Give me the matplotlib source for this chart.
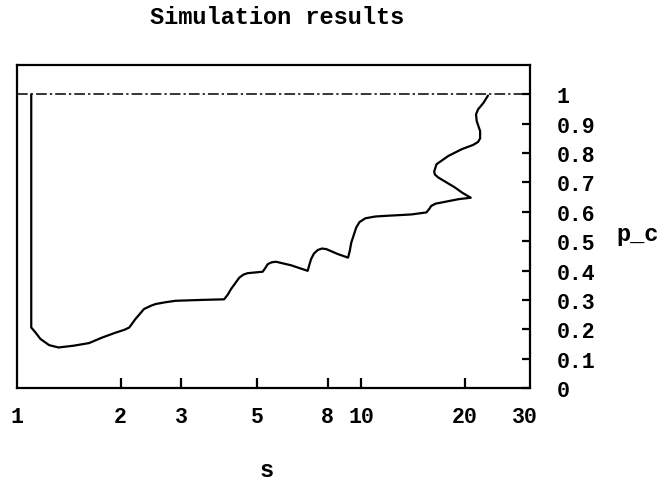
import matplotlib
matplotlib.use("Agg")
import matplotlib.pyplot as plt
from matplotlib.ticker import FixedLocator, FixedFormatter

# Data
s_vals = [1.10, 1.10, 1.13, 1.17, 1.24, 1.32, 1.46, 1.62, 1.77, 1.94, 2.05, 2.12, 2.21, 2.34,
          2.45, 2.53, 2.70, 2.89, 3.45, 4.00, 4.10, 4.19, 4.43, 4.55, 4.68, 5.18, 5.28, 5.36,
          5.50, 5.66, 6.26, 7.00, 7.08, 7.16, 7.30, 7.49, 7.70, 7.93, 8.57, 9.17, 9.27, 9.37,
          9.69, 9.90, 10.30, 11.00, 11.70, 14.00, 15.50, 15.80, 16.00, 16.50, 17.20, 19.20,
          20.85, 19.70, 18.75, 16.77, 16.40, 16.32, 16.58, 17.93, 19.61, 21.20, 21.90, 22.20,
          22.20, 21.70, 21.60, 21.90, 22.70, 23.40]
p_vals = [1.000, 0.206, 0.190, 0.167, 0.146, 0.138, 0.144, 0.153, 0.172, 0.189, 0.198, 0.206,
          0.235, 0.269, 0.280, 0.286, 0.292, 0.297, 0.300, 0.302, 0.318, 0.337, 0.376, 0.386,
          0.391, 0.396, 0.410, 0.422, 0.428, 0.430, 0.418, 0.399, 0.420, 0.439, 0.458, 0.470,
          0.475, 0.473, 0.456, 0.444, 0.465, 0.495, 0.547, 0.565, 0.578, 0.584, 0.586, 0.591,
          0.598, 0.610, 0.620, 0.628, 0.632, 0.643, 0.648, 0.665, 0.683, 0.717, 0.727, 0.737,
          0.762, 0.790, 0.813, 0.828, 0.838, 0.850, 0.875, 0.909, 0.932, 0.949, 0.971, 0.996]
ref_level = 1.0
x_major = [2, 3, 5, 8, 10, 20]
x_major_labels = ["2", "3", "5", "8", "10", "20"]
x_edge = [1, 30]
x_edge_labels = ["1", "30"]
y_ticks = [0, 0.1, 0.2, 0.3, 0.4, 0.5, 0.6, 0.7, 0.8, 0.9, 1.0]
y_ticklabels = ["0", "0.1", "0.2", "0.3", "0.4", "0.5", "0.6", "0.7", "0.8", "0.9", "1"]

FONT = "Liberation Mono"
TS = 15.5

fig = plt.figure(figsize=(6.61, 4.81), dpi=100)
ax = fig.add_axes([17 / 661, 1 - 389 / 481, (530 - 17) / 661, (389 - 66) / 481])

ax.plot(s_vals, p_vals, color="black", lw=1.6, solid_joinstyle="round",
        solid_capstyle="round")
ax.axhline(ref_level, color="black", lw=1.1, ls=(0, (7, 2, 1.5, 2)))

ax.set_xscale("log")
ax.set_xlim(1, 31.0)
ax.set_ylim(0, 1.1)

ax.xaxis.set_major_locator(FixedLocator(x_major))
ax.xaxis.set_major_formatter(FixedFormatter(x_major_labels))
ax.xaxis.set_minor_locator(FixedLocator(x_edge))
ax.xaxis.set_minor_formatter(FixedFormatter(x_edge_labels))
ax.yaxis.tick_right()
ax.set_yticks(y_ticks)
ax.set_yticklabels(y_ticklabels)

ax.tick_params(axis="x", which="major", direction="in", length=7, width=1.6, pad=13,
               labelsize=TS)
ax.tick_params(axis="x", which="minor", direction="in", length=0, width=0, pad=13,
               labelsize=TS)
ax.tick_params(axis="y", direction="in", length=6, width=1.6, pad=19,
               labelsize=TS)
for lab in (ax.get_xticklabels() + ax.get_xticklabels(minor=True)
            + ax.get_yticklabels()):
    lab.set_fontfamily(FONT)
    lab.set_fontweight("bold")
for lab in ax.get_yticklabels():
    lab.set_horizontalalignment("left")

for sp in ax.spines.values():
    sp.set_linewidth(1.6)

fig.text(277 / 661, 1 - 18 / 481, "Simulation results", ha="center", va="center",
         fontsize=17, fontfamily=FONT, fontweight="bold")
fig.text(616 / 661, 1 - 235 / 481, "p_c", ha="left", va="center",
         fontsize=17, fontfamily=FONT, fontweight="bold")
fig.text(267 / 661, 1 - 477 / 481, "s", ha="center", va="baseline",
         fontsize=17, fontfamily=FONT, fontweight="bold")

fig.savefig("out.png", dpi=100)
